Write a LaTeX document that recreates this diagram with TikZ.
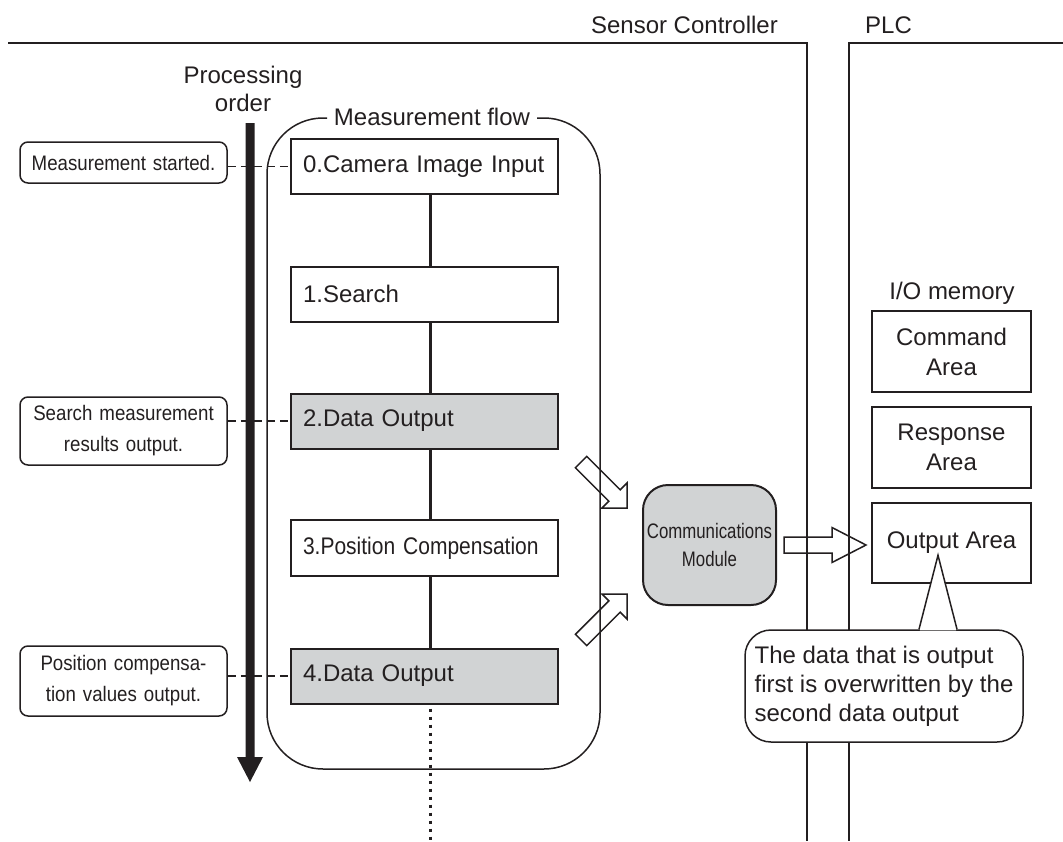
\documentclass[tikz,border=0pt]{standalone}
\usepackage{fontspec}
\setmainfont{Liberation Sans}
\newfontfamily\narrowfont{Liberation Sans}[FakeStretch=0.89]
\newfontfamily\condfont{Liberation Sans}[FakeStretch=0.80]
\newfontfamily\squeezefont{Liberation Sans}[FakeStretch=0.875]
\usetikzlibrary{calc}
\definecolor{ink}{HTML}{231F20}
\definecolor{boxgray}{HTML}{D1D3D4}
\tikzset{
  pics/diagarrow/.style={code={
    \draw[ink, line width=1.5pt, fill=white, line join=miter]
      (0,0) -- (-17.7,17.7) -- (-17.7,8) -- (-65,8) -- (-65,-8) -- (-17.7,-8) -- (-17.7,-17.7) -- cycle;}},
  pics/horizarrow/.style={code={
    \draw[ink, line width=1.5pt, fill=white, line join=miter]
      (0,0) -- (-34,17.5) -- (-34,8) -- (-82,8) -- (-82,-8) -- (-34,-8) -- (-34,-17.5) -- cycle;}}
}
\begin{document}
\begin{tikzpicture}[x=1pt,y=-1pt,
  txt/.style={font=\fontsize{24}{28}\selectfont, text=ink, inner sep=0pt},
  stepbox/.style={draw=ink, line width=2pt, minimum width=267pt, minimum height=55pt,
    text width=243pt, inner xsep=12pt, inner ysep=0pt, align=left,
    font=\fontsize{24}{29}\selectfont, text=ink},
  graybox/.style={stepbox, fill=boxgray},
  notelabel/.style={draw=ink, line width=1.5pt, rounded corners=8pt, minimum width=207pt,
    text width=195pt, inner xsep=6pt, inner ysep=0pt, align=center,
    font=\narrowfont\fontsize{21}{31}\selectfont, text=ink},
  areabox/.style={draw=ink, line width=2pt, minimum width=159pt, minimum height=81pt,
    align=center, font=\fontsize{24}{30}\selectfont, text=ink, inner sep=0pt},
  frame/.style={draw=ink, line width=1.5pt},
  conn/.style={draw=ink, line width=3pt},
  dashline/.style={draw=ink, line width=1.5pt, dash pattern=on 8pt off 5pt},
]
\useasboundingbox (0,0) rectangle (1063,841);

% headers
\node[txt, anchor=east] (sc) at (778,25) {Sensor Controller};
\node[txt, anchor=west] (plc) at (865,25) {PLC};
\node[txt, align=center] (po) at (243,89) {Processing\\order};

% flow steps
\node[stepbox] (b0) at (424.5,166.5) {0.Camera Image Input};
\node[stepbox] (b1) at (424.5,294) {1.Search};
\node[graybox] (b2) at (424.5,421) {2.Data Output};
\node[stepbox, minimum height=56pt, font=\squeezefont\fontsize{24}{29}\selectfont] (b3) at (424.5,548) {3.Position Compensation};
\node[graybox] (b4) at (424.5,676) {4.Data Output};

\coordinate (cx) at (430,0);
\coordinate (dotend) at (430,841);
\draw[conn] (b0.south -| cx) -- (b1.north -| cx);
\draw[conn] (b1.south -| cx) -- (b2.north -| cx);
\draw[conn] (b2.south -| cx) -- (b3.north -| cx);
\draw[conn] (b3.south -| cx) -- (b4.north -| cx);
\draw[ink, line width=3pt, dash pattern=on 3pt off 5pt] ($(b4.south -| cx)+(0,4)$) -- (dotend);

% left labels
\node[notelabel, minimum height=41pt] (l0) at (123.5,162.5) {Measurement started.};
\node[notelabel, minimum height=68pt] (l2) at (123.5,431) {Search measurement\\results output.};
\node[notelabel, minimum height=70pt] (l4) at (123.5,681) {Position compensa-\\tion values output.};

\draw[dashline] (l0.east |- b0.west) -- (b0.west);
\draw[dashline] (l2.east |- b2.west) -- (b2.west);
\draw[dashline] (l4.east |- b4.west) -- (b4.west);

% processing order arrow
\fill[ink] (245.5,123) -- (254.5,123) -- (254.5,757) -- (263,757) -- (250,782) -- (237,757) -- (245.5,757) -- cycle;

% communications module and PLC memory
\node[draw=ink, fill=boxgray, line width=2pt, rounded corners=25pt, minimum width=133pt,
  minimum height=120pt, align=center, font=\condfont\fontsize{21}{28}\selectfont,
  text=ink, inner sep=0pt] (cm) at (709.5,545) {Communications\\Module};
\node[txt] (io) at (952,293) {I/O memory};
\node[areabox] (cmd) at (951.5,351.5) {Command\\Area};
\node[areabox] (rsp) at (951.5,447.5) {Response\\Area};
\node[areabox, minimum height=80pt] (oa) at (951.5,543) {Output Area};

% hollow arrows
\pic[rotate=-45] at ($(cm.west)+(-15,-37)$) {diagarrow};
\pic[rotate=45] at ($(cm.west)+(-15,49)$) {diagarrow};
\pic at ($(oa.west)+(-5,2)$) {horizarrow};

% measurement flow frame
\draw[frame, rounded corners=56pt] (537,118) -- (600,118) -- (600,769) -- (267,769) -- (267,118) -- (327,118);
\node[txt] (mft) at (432,117) {Measurement flow};

% device frames
\draw[frame] (8,43) -- (807,43) -- (807,841);
\draw[frame] (1063,43) -- (849,43) -- (849,841);

% callout
\node[draw=ink, fill=white, line width=1.5pt, rounded corners=26pt, minimum width=278pt,
  minimum height=112pt, inner xsep=4pt, inner ysep=0pt, align=left,
  font=\fontsize{24}{29}\selectfont, text=ink] (note) at (884,686)
  {The data that is output\\first is overwritten by the\\second data output};
\fill[white] ($(note.north)+(35.8,1.2)$) -- ($(note.north)+(54,-74)$) -- ($(note.north)+(72.2,1.2)$) -- cycle;
\draw[ink, line width=1.5pt, line join=miter] ($(note.north)+(35,0)$) -- ($(note.north)+(54,-74)$) -- ($(note.north)+(73,0)$);
\end{tikzpicture}
\end{document}
